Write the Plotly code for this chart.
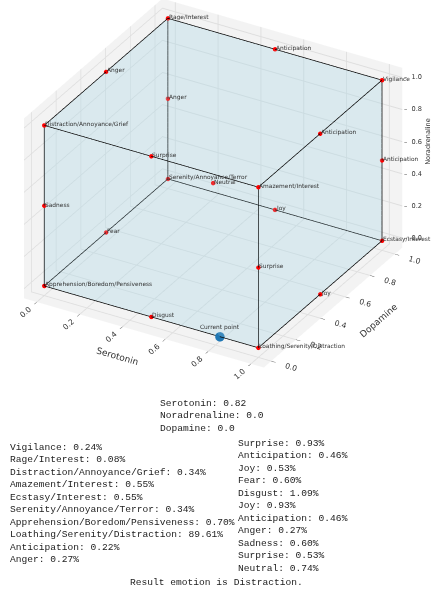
import plotly.graph_objects as go

# Current neurotransmitter levels
serotonin_level = 0.82
noradrenaline_level = 0.0
dopamine_level = 0.0

# Cube vertices (Serotonin, Dopamine, Noradrenaline)
vertex_labels = ["Vigilance", "Rage/Interest", "Distraction/Annoyance/Grief",
                 "Amazement/Interest", "Ecstasy/Interest", "Serenity/Annoyance/Terror",
                 "Apprehension/Boredom/Pensiveness", "Loathing/Serenity/Distraction"]
vertex_serotonin = [1, 0, 0, 1, 1, 0, 0, 1]
vertex_dopamine = [1, 1, 0, 0, 1, 1, 0, 0]
vertex_noradrenaline = [1, 1, 1, 1, 0, 0, 0, 0]
vertex_percent = [0.24, 0.08, 0.34, 0.55, 0.55, 0.34, 0.70, 89.61]

# Edge midpoints and the centre of the cube
mid_labels = ["Anticipation", "Anger", "Surprise", "Anticipation", "Joy", "Fear",
              "Disgust", "Joy", "Anticipation", "Anger", "Sadness", "Surprise", "Neutral"]
mid_serotonin = [0.5, 0, 1, 1, 0.5, 0, 0.5, 1, 1, 0, 0, 0.5, 0.5]
mid_dopamine = [1, 0.5, 0, 0.5, 1, 0.5, 0, 0.5, 1, 1, 0, 0, 0.5]
mid_noradrenaline = [1, 1, 0.5, 1, 0, 0, 0, 0, 0.5, 0.5, 0.5, 1, 0.5]
mid_percent = [0.22, 0.27, 0.93, 0.46, 0.53, 0.60, 1.09, 0.93, 0.46, 0.27, 0.60, 0.53, 0.74]

result_emotion = "Distraction"

tick_values = [0.0, 0.2, 0.4, 0.6, 0.8, 1.0]
tick_labels = ["0.0", "0.2", "0.4", "0.6", "0.8", "1.0"]

# Cube edges as vertex index pairs
edges = [(0, 1), (1, 2), (2, 3), (3, 0), (4, 5), (5, 6), (6, 7), (7, 4),
         (0, 4), (1, 5), (2, 6), (3, 7)]
# Cube faces as triangles
faces = [(0, 1, 2), (0, 2, 3), (4, 5, 6), (4, 6, 7), (0, 3, 7), (0, 7, 4),
         (1, 2, 6), (1, 6, 5), (0, 1, 5), (0, 5, 4), (2, 3, 7), (2, 7, 6)]

AX_LO, AX_HI = -0.06, 1.06
BOX = 1.42  # overall box scale

fig = go.Figure()

fig.add_trace(go.Mesh3d(
    x=vertex_serotonin, y=vertex_dopamine, z=vertex_noradrenaline,
    i=[f[0] for f in faces], j=[f[1] for f in faces], k=[f[2] for f in faces],
    color="#add8e6", opacity=0.2, flatshading=True,
    lighting=dict(ambient=1, diffuse=0, specular=0, roughness=1, fresnel=0),
    hoverinfo="skip", showscale=False,
))

ex, ey, ez = [], [], []
for a, b in edges:
    ex += [vertex_serotonin[a], vertex_serotonin[b], None]
    ey += [vertex_dopamine[a], vertex_dopamine[b], None]
    ez += [vertex_noradrenaline[a], vertex_noradrenaline[b], None]
fig.add_trace(go.Scatter3d(x=ex, y=ey, z=ez, mode="lines",
                           line=dict(color="black", width=1.5), hoverinfo="skip"))

fig.add_trace(go.Scatter3d(
    x=vertex_serotonin + mid_serotonin,
    y=vertex_dopamine + mid_dopamine,
    z=vertex_noradrenaline + mid_noradrenaline,
    mode="markers", marker=dict(color="red", size=2.6), hoverinfo="skip",
))

fig.add_trace(go.Scatter3d(
    x=[serotonin_level], y=[dopamine_level], z=[noradrenaline_level],
    mode="markers", marker=dict(color="#1f77b4", size=5.5), hoverinfo="skip",
))

label_font = dict(family="DejaVu Sans", size=5.9, color="#333333")
scene_annotations = []
for name, sx, dx, nx in zip(vertex_labels + mid_labels,
                            vertex_serotonin + mid_serotonin,
                            vertex_dopamine + mid_dopamine,
                            vertex_noradrenaline + mid_noradrenaline):
    scene_annotations.append(dict(x=sx, y=dx, z=nx, text=name, showarrow=False,
                                  xanchor="left", yanchor="middle", xshift=-1, yshift=1,
                                  font=label_font))
scene_annotations.append(dict(x=serotonin_level, y=dopamine_level, z=noradrenaline_level,
                              text="Current point", showarrow=False, xanchor="center",
                              yanchor="bottom", yshift=3, font=label_font))

# Noradrenaline ticks on the right-hand edge of the box
tick_font = dict(family="DejaVu Sans", size=6.6, color="#333333")
for v, t in zip(tick_values, tick_labels):
    scene_annotations.append(dict(x=AX_HI, y=AX_HI, z=v, text="–  " + t, showarrow=False,
                                  xanchor="left", yanchor="middle", xshift=0,
                                  font=tick_font))
scene_annotations.append(dict(x=AX_HI, y=AX_HI, z=0.6, text="Noradrenaline",
                              showarrow=False, textangle=-90, xanchor="center",
                              yanchor="middle", xshift=25, font=tick_font))

axis_common = dict(
    range=[AX_LO, AX_HI], tickvals=tick_values, ticktext=tick_labels,
    showbackground=True, backgroundcolor="rgb(243,243,243)",
    gridcolor="rgb(222,222,222)", showspikes=False, zeroline=False,
    ticks="outside", ticklen=5, tickwidth=1, tickcolor="#555555",
    tickfont=dict(family="DejaVu Sans", size=9.5, color="#333333"),
    title_font=dict(family="DejaVu Sans", size=9, color="#333333"),
    showline=False,
)

fig.update_layout(
    width=433, height=595, showlegend=False,
    paper_bgcolor="white", margin=dict(l=0, r=0, t=0, b=0),
    scene=dict(
        domain=dict(x=[0, 1], y=[0.345, 1]),
        xaxis=dict(axis_common, title_text="Serotonin"),
        yaxis=dict(axis_common, title_text="Dopamine"),
        zaxis=dict(axis_common, title_text="", showticklabels=False, ticks=""),
        aspectmode="manual", aspectratio=dict(x=BOX, y=BOX, z=0.75 * BOX),
        camera=dict(eye=dict(x=0.687, y=-1.155, z=0.705),
                    center=dict(x=0.02, y=0, z=-0.065),
                    up=dict(x=0, y=0, z=1),
                    projection=dict(type="orthographic")),
        annotations=scene_annotations,
    ),
)

mono = dict(family="Liberation Mono", size=9.6, color="#222222")

# Current levels
levels_text = "<br>".join([
    f"Serotonin: {serotonin_level}",
    f"Noradrenaline: {noradrenaline_level}",
    f"Dopamine: {dopamine_level}",
])
fig.add_annotation(x=158 / 433, y=1 - 396 / 595, xref="paper", yref="paper",
                   xanchor="left", yanchor="top", align="left", showarrow=False,
                   text=levels_text, font=mono)

# Share of each emotion, in two columns
all_labels = vertex_labels + mid_labels
all_percent = vertex_percent + mid_percent
lines = [f"{name}: {p:.2f}%" for name, p in zip(all_labels, all_percent)]
col1, col2 = lines[:10], lines[10:]
fig.add_annotation(x=8 / 433, y=1 - 440 / 595, xref="paper", yref="paper",
                   xanchor="left", yanchor="top", align="left", showarrow=False,
                   text="<br>".join(col1), font=mono)
fig.add_annotation(x=236 / 433, y=1 - 436 / 595, xref="paper", yref="paper",
                   xanchor="left", yanchor="top", align="left", showarrow=False,
                   text="<br>".join(col2), font=mono)

fig.add_annotation(x=216 / 433, y=1 - 582 / 595, xref="paper", yref="paper",
                   xanchor="center", yanchor="middle", showarrow=False,
                   text=f"Result emotion is {result_emotion}.", font=mono)

fig.write_html("out.html")
